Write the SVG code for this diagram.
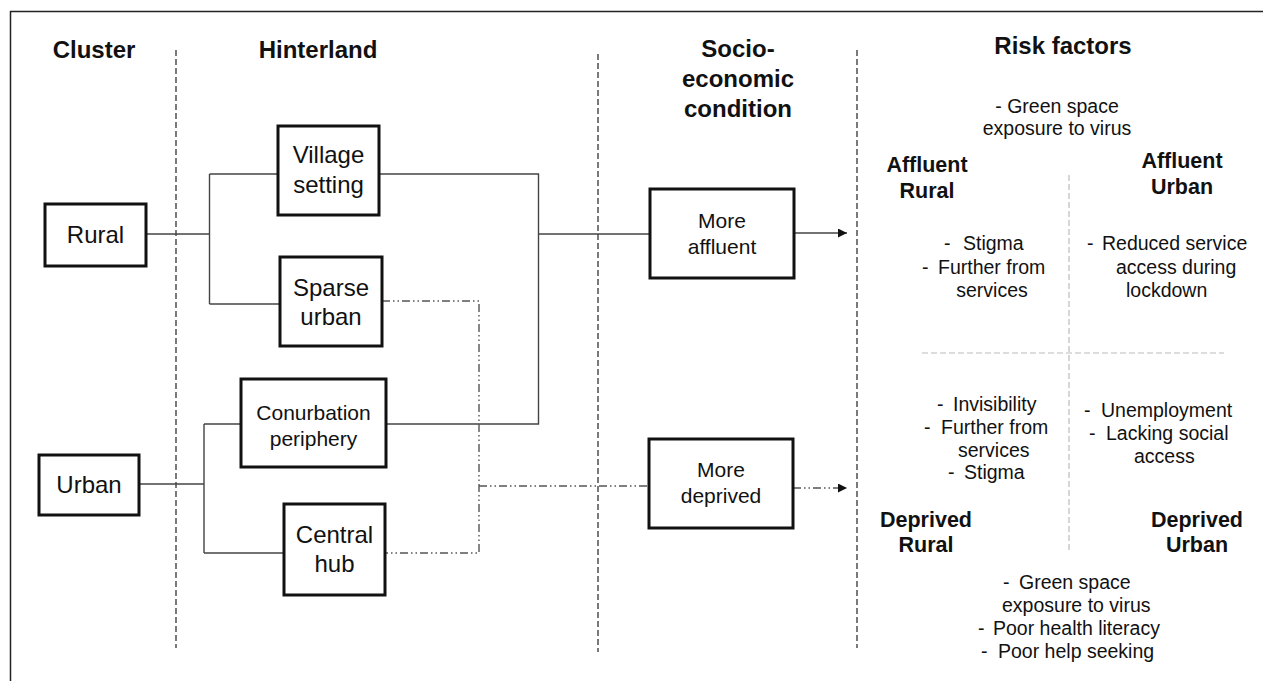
<svg xmlns="http://www.w3.org/2000/svg" width="1263" height="681" viewBox="0 0 1263 681">
<style>
text{font-family:"Liberation Sans",Arial,sans-serif;fill:#111}
.h{font-weight:bold;font-size:24px;text-anchor:middle}
.q{font-weight:bold;font-size:21.5px;text-anchor:middle}
.b24{font-size:24px;text-anchor:middle}
.b21{font-size:21px;text-anchor:middle}
.r{font-size:19.5px}
.box{fill:#fff;stroke:#111;stroke-width:3}
.sep{stroke:#333;stroke-width:1.3;stroke-dasharray:6 3;fill:none}
.grid{stroke:#bbb;stroke-width:1.2;stroke-dasharray:6 3;fill:none}
.c{stroke:#444;stroke-width:1.4;fill:none}
.dd{stroke:#555;stroke-width:1.4;fill:none;stroke-dasharray:8 3 1.5 3 1.5 3}
</style>
<defs>
<marker id="ah" viewBox="0 0 10 10" refX="10" refY="5" markerWidth="9" markerHeight="9" markerUnits="userSpaceOnUse" orient="auto">
<path d="M0,0 L10,5 L0,10 z" fill="#111"/>
</marker>
</defs>
<rect width="1263" height="681" fill="#fff"/>
<g id="frame">
<path d="M10.5,681 V11.5 H1263" stroke="#222" stroke-width="1.5" fill="none"/>
</g>
<g id="separators">
<line class="sep" x1="176" y1="50" x2="176" y2="648"/>
<line class="sep" x1="598" y1="54" x2="598" y2="652"/>
<line class="sep" x1="857" y1="50" x2="857" y2="648"/>
<line class="grid" x1="1069" y1="175" x2="1069" y2="551"/>
<line class="grid" x1="922" y1="353" x2="1224" y2="353"/>
</g>
<g id="headers">
<text class="h" x="94" y="58">Cluster</text>
<text class="h" x="318" y="58">Hinterland</text>
<text class="h" x="738" y="57">Socio-</text>
<text class="h" x="738" y="87">economic</text>
<text class="h" x="738" y="117">condition</text>
<text class="h" x="1063" y="54">Risk factors</text>
</g>
<g id="connectors">
<path class="c" d="M146,234 H209.5 M209.5,174 V304 M209.5,174 H278 M209.5,304 H280"/>
<path class="c" d="M139,484 H204 M204,424 V553 M204,424 H241 M204,553 H284"/>
<path class="c" d="M379,174 H538.5 V424 H386 M538.5,234 H650"/>
<path class="c" d="M794,233 H847" marker-end="url(#ah)"/>
<path class="dd" d="M382,301 H479 V553 H385 M479,486 H649"/>
<path class="dd" d="M793,488 H847" marker-end="url(#ah)"/>
</g>
<g id="rural">
<rect class="box" x="45" y="204" width="101" height="62"/>
<text class="b24" x="95.5" y="243">Rural</text>
</g>
<g id="urban">
<rect class="box" x="39" y="455" width="100" height="60"/>
<text class="b24" x="89" y="493">Urban</text>
</g>
<g id="village">
<rect class="box" x="278" y="126" width="101" height="89"/>
<text class="b24" x="328.5" y="163">Village</text>
<text class="b24" x="328.5" y="193">setting</text>
</g>
<g id="sparse">
<rect class="box" x="280" y="257" width="102" height="89"/>
<text class="b24" x="331" y="296">Sparse</text>
<text class="b24" x="331" y="325">urban</text>
</g>
<g id="conurbation">
<rect class="box" x="241" y="379" width="145" height="88"/>
<text class="b21" x="313.5" y="420">Conurbation</text>
<text class="b21" x="313.5" y="446">periphery</text>
</g>
<g id="central">
<rect class="box" x="284" y="504" width="101" height="91"/>
<text class="b24" x="334.5" y="543">Central</text>
<text class="b24" x="334.5" y="572">hub</text>
</g>
<g id="affluent">
<rect class="box" x="650" y="189" width="144" height="89"/>
<text class="b21" x="722" y="228">More</text>
<text class="b21" x="722" y="254">affluent</text>
</g>
<g id="deprived">
<rect class="box" x="649" y="439" width="144" height="89"/>
<text class="b21" x="721" y="477">More</text>
<text class="b21" x="721" y="503">deprived</text>
</g>
<g id="risk-factors">
<text class="r" x="1057" y="113" text-anchor="middle">- Green space</text>
<text class="r" x="1057" y="135" text-anchor="middle">exposure to virus</text>
<text class="q" x="927" y="172">Affluent</text>
<text class="q" x="927" y="198">Rural</text>
<text class="q" x="1182" y="168">Affluent</text>
<text class="q" x="1182" y="194">Urban</text>
<text class="r" x="944" y="250">-</text><text class="r" x="963" y="250">Stigma</text>
<text class="r" x="922" y="274">-</text><text class="r" x="938" y="274">Further from</text>
<text class="r" x="992" y="297" text-anchor="middle">services</text>
<text class="r" x="1087" y="250">-</text><text class="r" x="1102" y="250">Reduced service</text>
<text class="r" x="1116" y="274">access during</text>
<text class="r" x="1126" y="297">lockdown</text>
<text class="r" x="937" y="411">-</text><text class="r" x="953" y="411">Invisibility</text>
<text class="r" x="924" y="434">-</text><text class="r" x="941" y="434">Further from</text>
<text class="r" x="958" y="457">services</text>
<text class="r" x="948" y="479">-</text><text class="r" x="964" y="479">Stigma</text>
<text class="r" x="1084" y="417">-</text><text class="r" x="1101" y="417">Unemployment</text>
<text class="r" x="1089" y="440">-</text><text class="r" x="1106" y="440">Lacking social</text>
<text class="r" x="1134" y="463">access</text>
<text class="q" x="926" y="527">Deprived</text>
<text class="q" x="926" y="552">Rural</text>
<text class="q" x="1197" y="527">Deprived</text>
<text class="q" x="1197" y="552">Urban</text>
<text class="r" x="1003" y="589">-</text><text class="r" x="1019" y="589">Green space</text>
<text class="r" x="1002" y="612">exposure to virus</text>
<text class="r" x="978" y="635">-</text><text class="r" x="993" y="635">Poor health literacy</text>
<text class="r" x="981" y="658">-</text><text class="r" x="998" y="658">Poor help seeking</text>
</g>
</svg>
